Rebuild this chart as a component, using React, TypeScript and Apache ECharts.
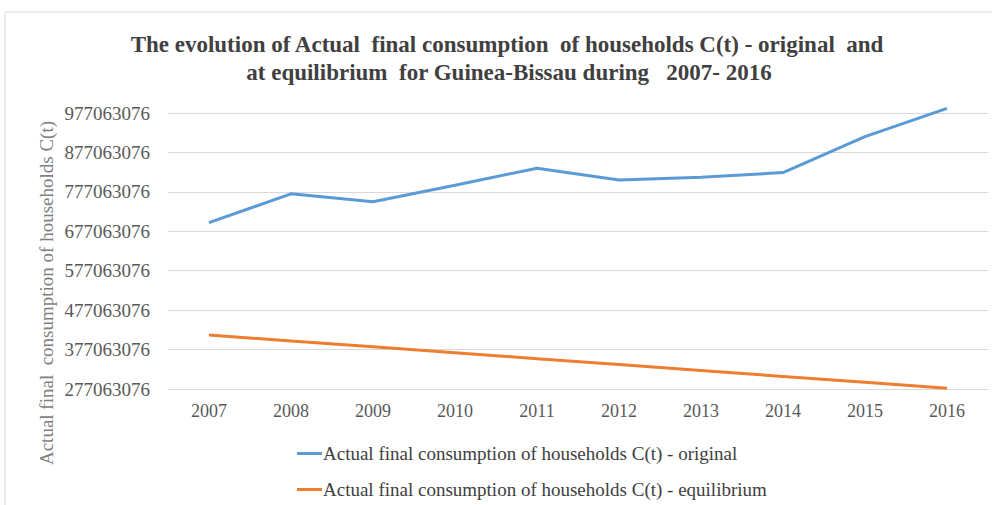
import React, { useEffect, useRef } from "react";
import * as echarts from "echarts";

const years = ["2007", "2008", "2009", "2010", "2011", "2012", "2013", "2014", "2015", "2016"];
const originalValues = [699000000, 772000000, 752000000, 794000000, 837000000, 807000000, 814000000, 826000000, 917000000, 989000000];
const equilibriumValues = [414000000, 399000000, 384000000, 369000000, 354000000, 339000000, 324000000, 309000000, 294000000, 279000000];
const axisBase = 277063076;
const axisTop = 977063076;
const axisStep = 100000000;
const seriesNames = [
  "Actual final consumption of households C(t) - original",
  "Actual final consumption of households C(t) - equilibrium",
];
const titleLines = [
  "The evolution of Actual  final consumption  of households C(t) - original  and",
  "at equilibrium  for Guinea-Bissau during   2007- 2016",
];
const yAxisName = "Actual final  consumption of households C(t)";

const SERIF = '"Liberation Serif", "DejaVu Serif", serif';

export default function App() {
  const ref = useRef<HTMLDivElement>(null);
  useEffect(() => {
    if (!ref.current) return;
    const chart = echarts.init(ref.current, null, { renderer: "svg" });
    chart.setOption({
      animation: false,
      backgroundColor: "#ffffff",
      graphic: [
        {
          type: "rect",
          shape: { x: 5, y: 12, width: 1000, height: 520 },
          style: { fill: "none", stroke: "#d9d9d9", lineWidth: 1 },
          silent: true,
        },
        {
          type: "text",
          x: 507,
          y: 44,
          style: {
            text: titleLines[0],
            font: `bold 23px ${SERIF}`,
            fill: "#404040",
            textAlign: "center",
            textVerticalAlign: "middle",
          },
        },
        {
          type: "text",
          x: 509,
          y: 72,
          style: {
            text: titleLines[1],
            font: `bold 23px ${SERIF}`,
            fill: "#404040",
            textAlign: "center",
            textVerticalAlign: "middle",
          },
        },
        {
          type: "text",
          x: 46,
          y: 293,
          rotation: Math.PI / 2,
          style: {
            text: yAxisName,
            font: `19px ${SERIF}`,
            fill: "#7f7f7f",
            textAlign: "center",
            textVerticalAlign: "middle",
          },
        },
      ],
      grid: { left: 168, right: 4, top: 113, bottom: 116, containLabel: false },
      legend: {
        orient: "vertical",
        left: 292,
        top: 439,
        itemGap: 17,
        itemWidth: 25,
        itemHeight: 3,
        icon: "rect",
        textStyle: { fontFamily: SERIF, fontSize: 19, color: "#404040", padding: [0, 0, 0, -4] },
        data: seriesNames,
      },
      xAxis: {
        type: "category",
        data: years,
        boundaryGap: true,
        axisTick: { show: false },
        axisLine: { show: true, lineStyle: { color: "#d9d9d9", width: 1 } },
        axisLabel: { color: "#595959", fontFamily: SERIF, fontSize: 18, margin: 13 },
      },
      yAxis: {
        type: "value",
        min: 0,
        max: axisTop - axisBase,
        interval: axisStep,
        axisLine: { show: false },
        axisTick: { show: false },
        splitLine: { show: true, lineStyle: { color: "#d9d9d9", width: 1 } },
        axisLabel: {
          color: "#595959",
          fontFamily: SERIF,
          fontSize: 19,
          margin: 18,
          formatter: (v: number) => String(v + axisBase),
        },
      },
      series: [
        {
          name: seriesNames[0],
          type: "line",
          data: originalValues.map((v) => v - axisBase),
          symbol: "none",
          clip: false,
          lineStyle: { color: "#5b9bd5", width: 3 },
          itemStyle: { color: "#5b9bd5" },
        },
        {
          name: seriesNames[1],
          type: "line",
          data: equilibriumValues.map((v) => v - axisBase),
          symbol: "none",
          clip: false,
          lineStyle: { color: "#ed7d31", width: 3 },
          itemStyle: { color: "#ed7d31" },
        },
      ],
    });
    return () => chart.dispose();
  }, []);
  return (
    <div
      ref={ref}
      style={{ position: "fixed", left: 0, top: 0, width: 992, height: 505, background: "#fff" }}
    />
  );
}
